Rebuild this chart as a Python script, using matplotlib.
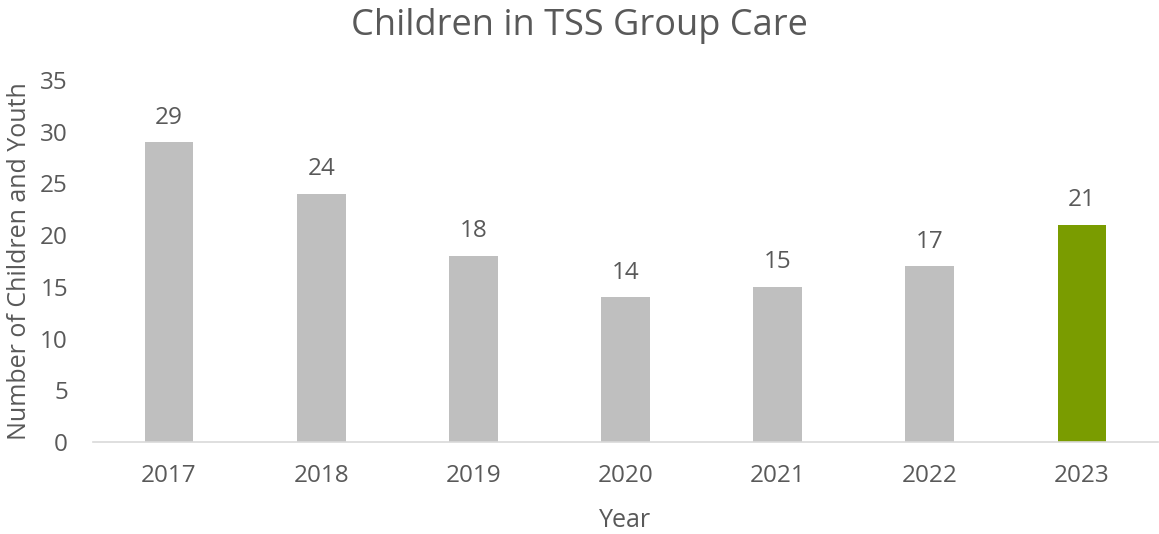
import matplotlib.pyplot as plt
import numpy as np

years = ['2017', '2018', '2019', '2020', '2021', '2022', '2023']
children = [29, 24, 18, 14, 15, 17, 21]
bar_colors = ['#BFBFBF'] * 6 + ['#7A9C00']

plt.rcParams['font.family'] = ['Open Sans', 'DejaVu Sans']
text_color = '#595959'

fig = plt.figure(figsize=(11.59, 5.34), dpi=100)
ax = fig.add_axes([0.0802, 0.1723, 0.919, 0.678])

x = np.arange(len(years))
bars = ax.bar(x, children, width=0.32, color=bar_colors, zorder=2)

# value labels above each bar
for xi, val in zip(x, children):
    ax.annotate(str(val), (xi, val), xytext=(0, 9), textcoords='offset points',
                ha='center', va='bottom', fontsize=17.5, color=text_color)

ax.set_xlim(-0.5, len(years) - 0.5)
ax.set_ylim(0, 35)
ax.set_yticks(range(0, 36, 5))
ax.set_xticks(x)
ax.set_xticklabels(years)
ax.tick_params(axis='both', length=0, labelsize=17.5, labelcolor=text_color)
ax.tick_params(axis='x', pad=16)
ax.tick_params(axis='y', pad=18)

for side in ['top', 'right', 'left']:
    ax.spines[side].set_visible(False)
ax.spines['bottom'].set_color('#D9D9D9')
ax.spines['bottom'].set_linewidth(1.2)

ax.set_xlabel('Year', fontsize=18, color=text_color, labelpad=14)
ax.set_ylabel('Number of Children and Youth', fontsize=18, color=text_color, labelpad=6)
fig.suptitle('Children in TSS Group Care', fontsize=26, color=text_color, y=0.985, va='top')

fig.savefig('out.png', dpi=100)
